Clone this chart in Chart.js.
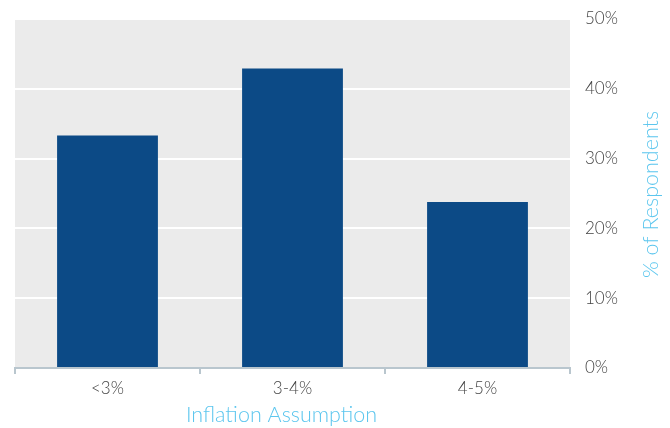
<!DOCTYPE html>
<html>
<head>
<meta charset="utf-8">
<script src="https://cdn.jsdelivr.net/npm/chart.js@4/dist/chart.umd.min.js"></script>
<style>
  html, body { margin: 0; padding: 0; background: #ffffff; }
  #wrap { width: 670px; height: 428px; }
</style>
</head>
<body>
<div id="wrap"><canvas id="c" width="670" height="428"></canvas></div>
<script>
// Share of respondents by assumed inflation rate
const categories = ['<3%', '3-4%', '4-5%'];
const respondents = [33.3, 42.9, 23.8];
const yTicks = [0, 10, 20, 30, 40, 50];
const xTitle = 'Inflation Assumption';
const yTitle = '% of Respondents';

const FONT_FAMILY = 'Lato, "Open Sans", sans-serif';
const ACCENT = '#5cc6ee';

// grey plot panel behind the bars
const plotBackground = {
  id: 'plotBackground',
  beforeDraw(chart) {
    const { ctx, chartArea: a } = chart;
    ctx.save();
    ctx.fillStyle = '#ebebeb';
    ctx.fillRect(a.left, a.top, a.right - a.left, a.bottom - a.top);
    ctx.restore();
  }
};

// axis titles: bottom one sits a little left of centre, side one reads bottom to top
const axisTitles = {
  id: 'axisTitles',
  afterDraw(chart) {
    const { ctx, chartArea: a } = chart;
    ctx.save();
    ctx.font = '300 21.5px ' + FONT_FAMILY;
    ctx.fillStyle = ACCENT;
    ctx.textAlign = 'center';
    ctx.textBaseline = 'middle';
    ctx.fillText(xTitle, (a.left + a.right) / 2 - 11, a.bottom + 47);
    ctx.translate(651, (a.top + a.bottom) / 2 + 1);
    ctx.rotate(-Math.PI / 2);
    ctx.fillText(yTitle, 0, 0);
    ctx.restore();
  }
};

const tickFont = { family: FONT_FAMILY, size: 17, weight: '300' };

new Chart(document.getElementById('c'), {
  type: 'bar',
  data: {
    labels: categories,
    datasets: [{
      data: respondents,
      backgroundColor: '#0c4a86',
      borderWidth: 0,
      categoryPercentage: 1,
      barPercentage: 0.545
    }]
  },
  plugins: [plotBackground, axisTitles],
  options: {
    responsive: false,
    animation: false,
    layout: { padding: { left: 15, top: 19, right: 0, bottom: 0 } },
    plugins: { legend: { display: false }, tooltip: { enabled: false } },
    scales: {
      x: {
        offset: true,
        afterFit(axis) { axis.height = 60; },
        grid: {
          offset: true,
          drawOnChartArea: false,
          drawTicks: true,
          tickLength: 6,
          color: '#b9c6ce',
          lineWidth: 2
        },
        border: { color: '#b9c6ce', width: 2 },
        ticks: { color: '#444', font: tickFont, padding: 4 }
      },
      y: {
        position: 'right',
        min: 0,
        max: 50,
        afterFit(axis) {
          axis.width = 100;
          axis.paddingTop = 0;
          axis.paddingBottom = 0;
        },
        afterBuildTicks(axis) { axis.ticks = yTicks.map(v => ({ value: v })); },
        grid: { color: '#ffffff', lineWidth: 2, drawTicks: false },
        border: { display: false },
        ticks: { color: '#444', font: tickFont, padding: 15, callback: v => v + '%' }
      }
    }
  }
});
</script>
</body>
</html>
